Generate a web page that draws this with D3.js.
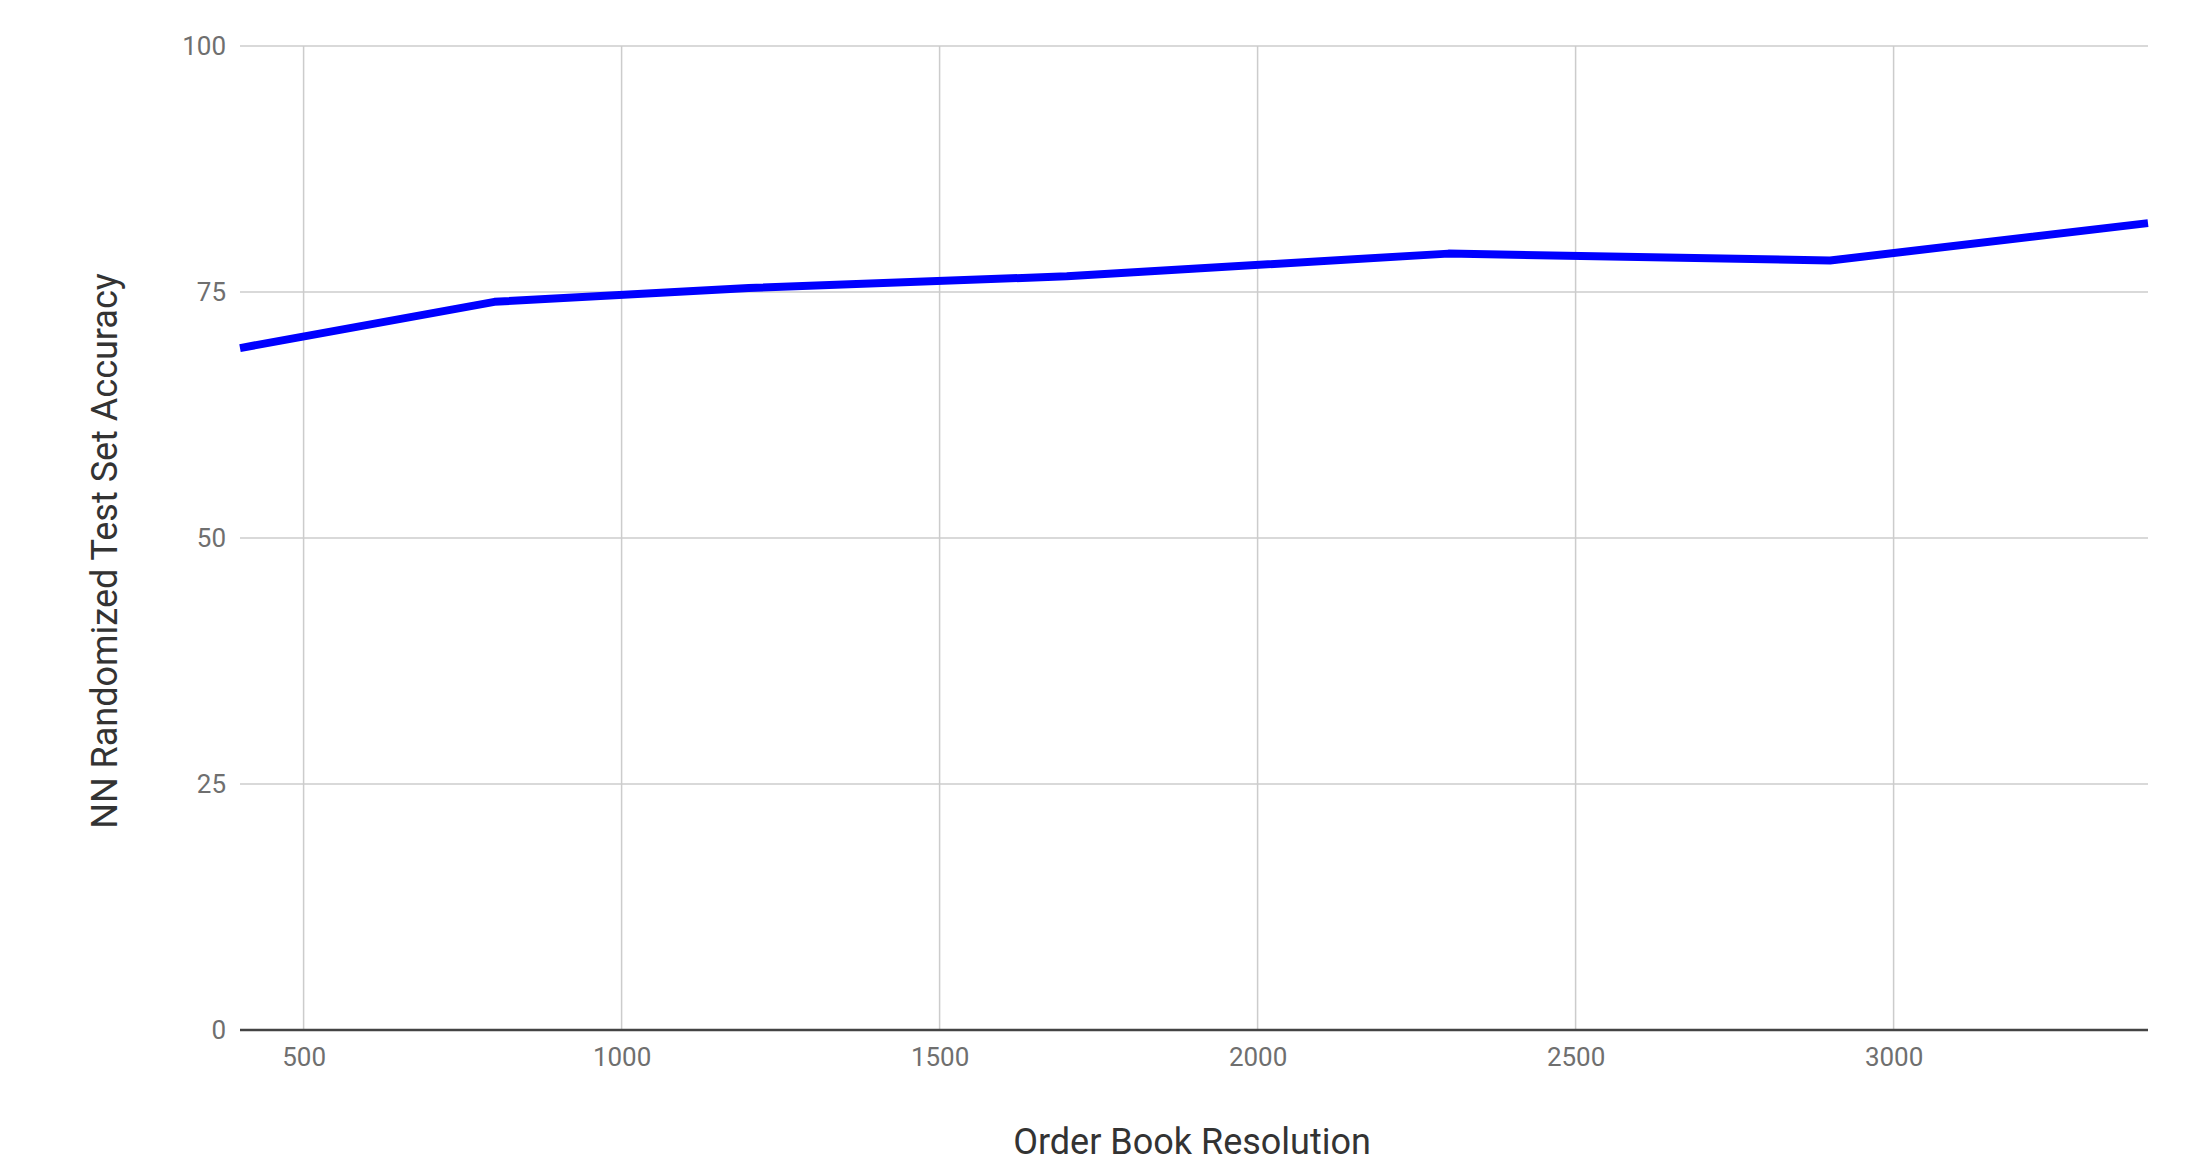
<!DOCTYPE html>
<html>
<head>
<meta charset="utf-8">
<script src="https://cdn.jsdelivr.net/npm/d3@7"></script>
<style>
  html, body { margin: 0; padding: 0; background: #fff; }
  svg { display: block; font-family: Roboto, "Noto Sans", Arial, sans-serif; }
</style>
</head>
<body>
<svg id="chart" width="2187" height="1166"></svg>
<script>
// Data
const resolutions = [400, 800, 1200, 1700, 2300, 2900, 3400];
const accuracy = [69.3, 74.0, 75.4, 76.6, 78.9, 78.2, 82.0];
const xTicks = [500, 1000, 1500, 2000, 2500, 3000];
const yTicks = [0, 25, 50, 75, 100];
const xTitle = "Order Book Resolution";
const yTitle = "NN Randomized Test Set Accuracy";

const W = 2187, H = 1166;
const margin = { left: 240, right: W - 2148, top: 46, bottom: H - 1030 };
const svg = d3.select("#chart");

const x = d3.scaleLinear().domain([400, 3400]).range([margin.left, W - margin.right]);
const y = d3.scaleLinear().domain([0, 100]).range([H - margin.bottom, margin.top]);

// Horizontal gridlines + y labels
const yAxis = d3.axisLeft(y).tickValues(yTicks).tickSize(0).tickPadding(14);
const gy = svg.append("g").attr("transform", `translate(${margin.left},0)`).call(yAxis);
gy.select(".domain").remove();
gy.selectAll("text").attr("font-size", 26).attr("fill", "#6f6f6f").attr("font-family", "Roboto");

svg.append("g").selectAll("line").data(yTicks.filter(d => d !== 0)).join("line")
  .attr("x1", x.range()[0]).attr("x2", x.range()[1])
  .attr("y1", d => y(d)).attr("y2", d => y(d))
  .attr("stroke", "#cccccc").attr("stroke-width", 1.5);

// Vertical gridlines
svg.append("g").selectAll("line").data(xTicks).join("line")
  .attr("x1", d => x(d)).attr("x2", d => x(d))
  .attr("y1", y(100)).attr("y2", y(0))
  .attr("stroke", "#cccccc").attr("stroke-width", 1.5);

// X axis labels
const xAxis = d3.axisBottom(x).tickValues(xTicks).tickSize(0).tickPadding(18).tickFormat(d3.format("d"));
const gx = svg.append("g").attr("transform", `translate(0,${y(0)})`).call(xAxis);
gx.select(".domain").remove();
gx.selectAll("text").attr("font-size", 26).attr("fill", "#6f6f6f").attr("font-family", "Roboto");

// Baseline
svg.append("line")
  .attr("x1", x.range()[0]).attr("x2", x.range()[1])
  .attr("y1", y(0)).attr("y2", y(0))
  .attr("stroke", "#444").attr("stroke-width", 2.5);

// Line
const line = d3.line().x((d, i) => x(resolutions[i])).y(d => y(d));
svg.append("path").datum(accuracy)
  .attr("d", line)
  .attr("fill", "none").attr("stroke", "#0000ff").attr("stroke-width", 8)
  .attr("stroke-linejoin", "round");

// Titles
svg.append("text")
  .attr("x", 1192).attr("y", 1144)
  .attr("text-anchor", "middle").attr("dominant-baseline", "middle")
  .attr("font-size", 36).attr("fill", "#333").text(xTitle);

svg.append("text")
  .attr("transform", `translate(107,551) rotate(-90)`)
  .attr("text-anchor", "middle").attr("dominant-baseline", "middle")
  .attr("font-size", 36).attr("fill", "#333").text(yTitle);
</script>
</body>
</html>
